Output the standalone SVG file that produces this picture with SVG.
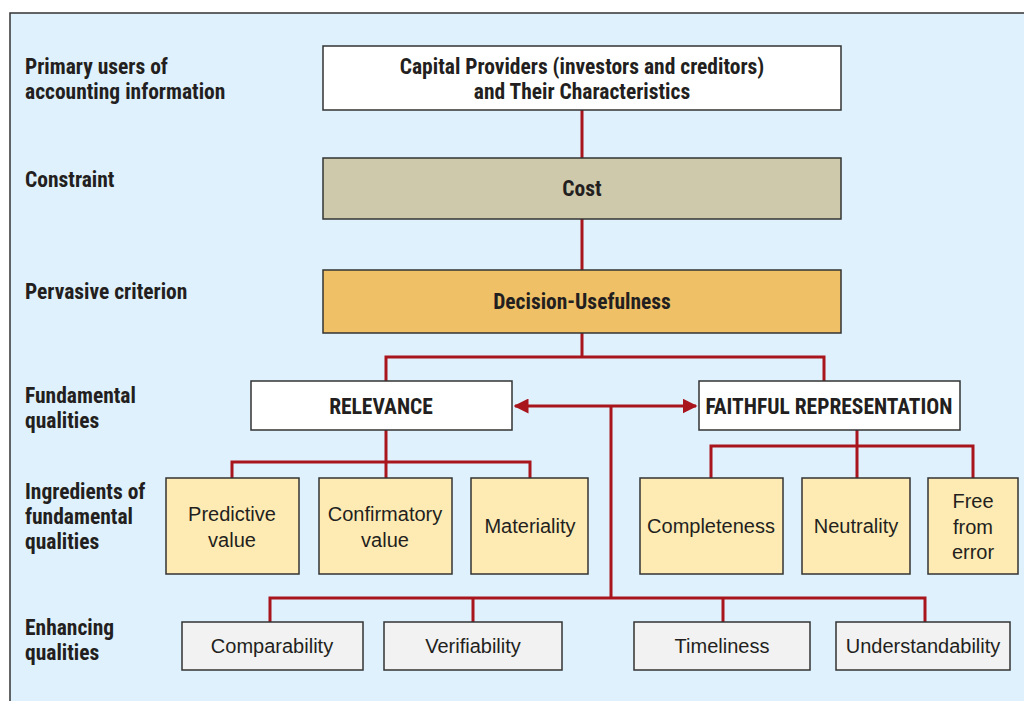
<svg xmlns="http://www.w3.org/2000/svg" width="1024" height="701" viewBox="0 0 1024 701">
<style>
.lbl{font-family:"Liberation Sans Narrow","Roboto Condensed","Liberation Sans",sans-serif;font-weight:bold;font-size:21.5px;fill:#231f20}
.hd{font-family:"Liberation Sans Narrow","Roboto Condensed","Liberation Sans",sans-serif;font-weight:bold;font-size:21.5px;fill:#231f20;text-anchor:middle}
.tx{font-family:"Liberation Sans",Arial,sans-serif;font-size:20px;fill:#231f20;text-anchor:middle}
.box{stroke:#333;stroke-width:1.5}
.w{fill:#ffffff}.cost{fill:#cfc9ac}.dec{fill:#efc066}.ing{fill:#feebb3}.enh{fill:#f2f2f2}
.con{fill:none;stroke:#a8151c;stroke-width:3}
</style>
<defs>
<marker id="ah" viewBox="0 0 10 10" refX="9" refY="5" markerWidth="5" markerHeight="5" orient="auto-start-reverse" markerUnits="strokeWidth">
<path d="M0,0 L10,5 L0,10 z" fill="#a8151c"/>
</marker>
</defs>
<rect x="10" y="13" width="1020" height="700" fill="#dff1fc" stroke="#333" stroke-width="1.5"/>
<g id="labels">
<text class="lbl" x="25" y="74">Primary users of</text>
<text class="lbl" x="25" y="99">accounting information</text>
<text class="lbl" x="25" y="187">Constraint</text>
<text class="lbl" x="25" y="299">Pervasive criterion</text>
<text class="lbl" x="25" y="403">Fundamental</text>
<text class="lbl" x="25" y="428">qualities</text>
<text class="lbl" x="25" y="499">Ingredients of</text>
<text class="lbl" x="25" y="524">fundamental</text>
<text class="lbl" x="25" y="549">qualities</text>
<text class="lbl" x="25" y="635">Enhancing</text>
<text class="lbl" x="25" y="660">qualities</text>
</g>
<g id="connectors">
<path class="con" d="M582,110 V158 M582,219 V270 M582,333 V357 M386,381 V357 H824 V381"/>
<path class="con" d="M386,430 V462 M232,478 V462 H530 V478 M386,462 V478"/>
<path class="con" d="M857,430 V446 M711,478 V446 H973 V478 M857,446 V478"/>
<path class="con" d="M611,406 V598 M270,622 V598 H925 V622 M473,598 V622 M723,598 V622"/>
<path class="con" d="M515,406 H696" marker-start="url(#ah)" marker-end="url(#ah)"/>
</g>
<g id="capital"><rect class="box w" x="323" y="46" width="518" height="64"/>
<text class="hd" x="582" y="74">Capital Providers (investors and creditors)</text>
<text class="hd" x="582" y="99">and Their Characteristics</text></g>
<g id="cost"><rect class="box cost" x="323" y="158" width="518" height="61"/>
<text class="hd" x="582" y="196">Cost</text></g>
<g id="decision"><rect class="box dec" x="323" y="270" width="518" height="63"/>
<text class="hd" x="582" y="309">Decision-Usefulness</text></g>
<g id="relevance"><rect class="box w" x="251" y="381" width="261" height="49"/>
<text class="hd" x="381" y="414">RELEVANCE</text></g>
<g id="faithful"><rect class="box w" x="699" y="381" width="261" height="49"/>
<text class="hd" x="829" y="414">FAITHFUL REPRESENTATION</text></g>
<g id="predictive"><rect class="box ing" x="166" y="478" width="133" height="96"/>
<text class="tx" x="232" y="521">Predictive</text><text class="tx" x="232" y="547">value</text></g>
<g id="confirmatory"><rect class="box ing" x="319" y="478" width="133" height="96"/>
<text class="tx" x="385" y="521">Confirmatory</text><text class="tx" x="385" y="547">value</text></g>
<g id="materiality"><rect class="box ing" x="471" y="478" width="117" height="96"/>
<text class="tx" x="530" y="533">Materiality</text></g>
<g id="completeness"><rect class="box ing" x="640" y="478" width="143" height="96"/>
<text class="tx" x="711" y="533">Completeness</text></g>
<g id="neutrality"><rect class="box ing" x="802" y="478" width="108" height="96"/>
<text class="tx" x="856" y="533">Neutrality</text></g>
<g id="freefromerror"><rect class="box ing" x="928" y="478" width="90" height="96"/>
<text class="tx" x="973" y="508">Free</text><text class="tx" x="973" y="534">from</text><text class="tx" x="973" y="559">error</text></g>
<g id="comparability"><rect class="box enh" x="182" y="622" width="181" height="48"/>
<text class="tx" x="272" y="653">Comparability</text></g>
<g id="verifiability"><rect class="box enh" x="384" y="622" width="178" height="48"/>
<text class="tx" x="473" y="653">Verifiability</text></g>
<g id="timeliness"><rect class="box enh" x="634" y="622" width="176" height="48"/>
<text class="tx" x="722" y="653">Timeliness</text></g>
<g id="understandability"><rect class="box enh" x="836" y="622" width="174" height="48"/>
<text class="tx" x="923" y="653">Understandability</text></g>
</svg>
